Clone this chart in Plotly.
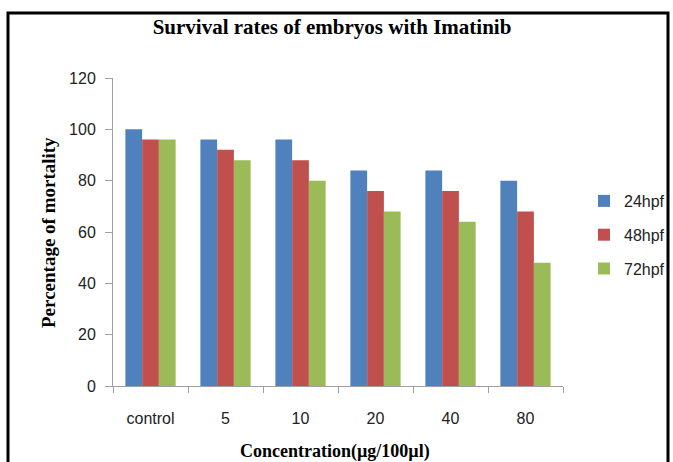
import plotly.graph_objects as go

categories = ["control", "5", "10", "20", "40", "80"]
series_names = ["24hpf", "48hpf", "72hpf"]
v24 = [100, 96, 96, 84, 84, 80]
v48 = [96, 92, 88, 76, 76, 68]
v72 = [96, 88, 80, 68, 64, 48]
colors = ["#4F81BD", "#C0504D", "#9BBB59"]

W, H = 673, 462
L, R, T, B = 113, 110, 78, 76
pw, ph = W - L - R, H - T - B

def px(x):
    return (x - L) / pw

def py(y):
    return (H - B - y) / ph

fig = go.Figure()
for name, vals, c in zip(series_names, [v24, v48, v72], colors):
    fig.add_trace(go.Bar(x=categories, y=vals, name=name, marker_color=c,
                         marker_line_width=0, legendgroup=name))

serif = "Liberation Serif, Times New Roman, serif"
sans = "Liberation Sans, Arial, sans-serif"

fig.update_layout(
    width=W, height=H,
    margin=dict(l=L, r=R, t=T, b=B, autoexpand=False),
    paper_bgcolor="white", plot_bgcolor="white",
    barmode="group", bargap=0.33, bargroupgap=0,
    showlegend=True,
    legend=dict(x=px(584), y=py(184), xanchor="left", yanchor="top",
                font=dict(family=sans, size=16, color="#222"),
                itemwidth=30, tracegroupgap=10, bgcolor="rgba(0,0,0,0)"),
    title=dict(text="<b>Survival rates of embryos with Imatinib</b>",
               font=dict(family=serif, size=21, color="black"),
               x=px(332), xref="paper", xanchor="center",
               y=1 - 27 / H, yref="container", yanchor="middle"),
    xaxis=dict(showgrid=False, showline=True, linecolor="#A0A0A0", linewidth=1,
               ticks="outside", tickson="boundaries", ticklen=6, tickcolor="#A0A0A0",
               tickfont=dict(family=sans, size=16, color="#222"),
               ticklabelstandoff=18),
    yaxis=dict(range=[0, 120], dtick=20, showgrid=False, showline=True,
               linecolor="#A0A0A0", linewidth=1, ticks="outside", ticklen=7,
               tickcolor="#A0A0A0", zeroline=False,
               tickfont=dict(family=sans, size=16, color="#222"),
               ticklabelstandoff=6),
)

fig.add_annotation(text="<b>Percentage of mortality</b>", xref="paper", yref="paper",
                   x=px(48), y=py(233), textangle=-90, showarrow=False,
                   font=dict(family=serif, size=19, color="black"),
                   xanchor="center", yanchor="middle")
fig.add_annotation(text="<b>Concentration(µg/100µl)</b>", xref="paper", yref="paper",
                   x=px(335), y=py(452), showarrow=False,
                   font=dict(family=serif, size=18, color="black"),
                   xanchor="center", yanchor="middle")

x0, x1 = px(8), px(668)
y_top, y_bot = py(13), py(475)
fig.add_shape(type="path", xref="paper", yref="paper",
              path=f"M {x0},{y_bot} L {x0},{y_top} L {x1},{y_top} L {x1},{y_bot}",
              line=dict(color="black", width=3))

fig.write_html("out.html", config={"displayModeBar": False},
               post_script="document.body.style.margin='0';document.body.style.padding='0';document.body.style.overflow='hidden';")
